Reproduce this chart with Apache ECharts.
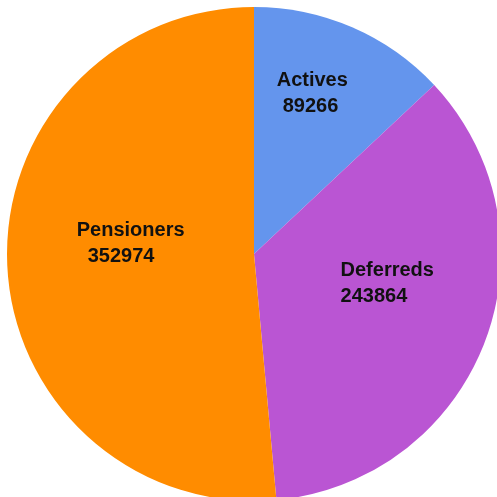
<!DOCTYPE html>
<html>
<head>
<meta charset="utf-8">
<script src="https://cdn.jsdelivr.net/npm/echarts@6/dist/echarts.min.js"></script>
<style>
  html, body { margin: 0; padding: 0; background: #fff; }
  #chart { width: 497px; height: 497px; }
</style>
</head>
<body>
<div id="chart"></div>
<script>
// Membership by status
const categories = ['Actives', 'Deferreds', 'Pensioners'];
const values = [89266, 243864, 352974];
const colors = ['#6495ED', '#BA55D3', '#FF8C00'];

// Per-slice label nudges from the default inside spot, plus indent of the value line
const labelOffsets = [[8, -44], [15, -15], [3, -16]];
const valueIndent = [6, 0, 11];

const font = 'Liberation Sans, Arial, sans-serif';

const data = categories.map((name, i) => ({
  name,
  value: values[i],
  itemStyle: { color: colors[i] },
  label: {
    offset: labelOffsets[i],
    rich: {
      n: { fontSize: 20, fontWeight: 'bold', color: '#111', fontFamily: font, lineHeight: 26, align: 'left' },
      v: { fontSize: 20, fontWeight: 'bold', color: '#111', fontFamily: font, lineHeight: 26, align: 'left', padding: [0, 0, 0, valueIndent[i]] }
    }
  }
}));

const chart = echarts.init(document.getElementById('chart'), null, { renderer: 'canvas' });
chart.setOption({
  animation: false,
  series: [{
    type: 'pie',
    center: [254, 254],
    radius: 247,
    startAngle: 90,
    clockwise: true,
    avoidLabelOverlap: false,
    label: {
      show: true,
      position: 'inside',
      verticalAlign: 'middle',
      formatter: p => '{n|' + p.name + '}\n{v|' + p.value + '}'
    },
    labelLine: { show: false },
    emphasis: { disabled: true },
    itemStyle: { borderWidth: 0 },
    data
  }]
});
</script>
</body>
</html>
